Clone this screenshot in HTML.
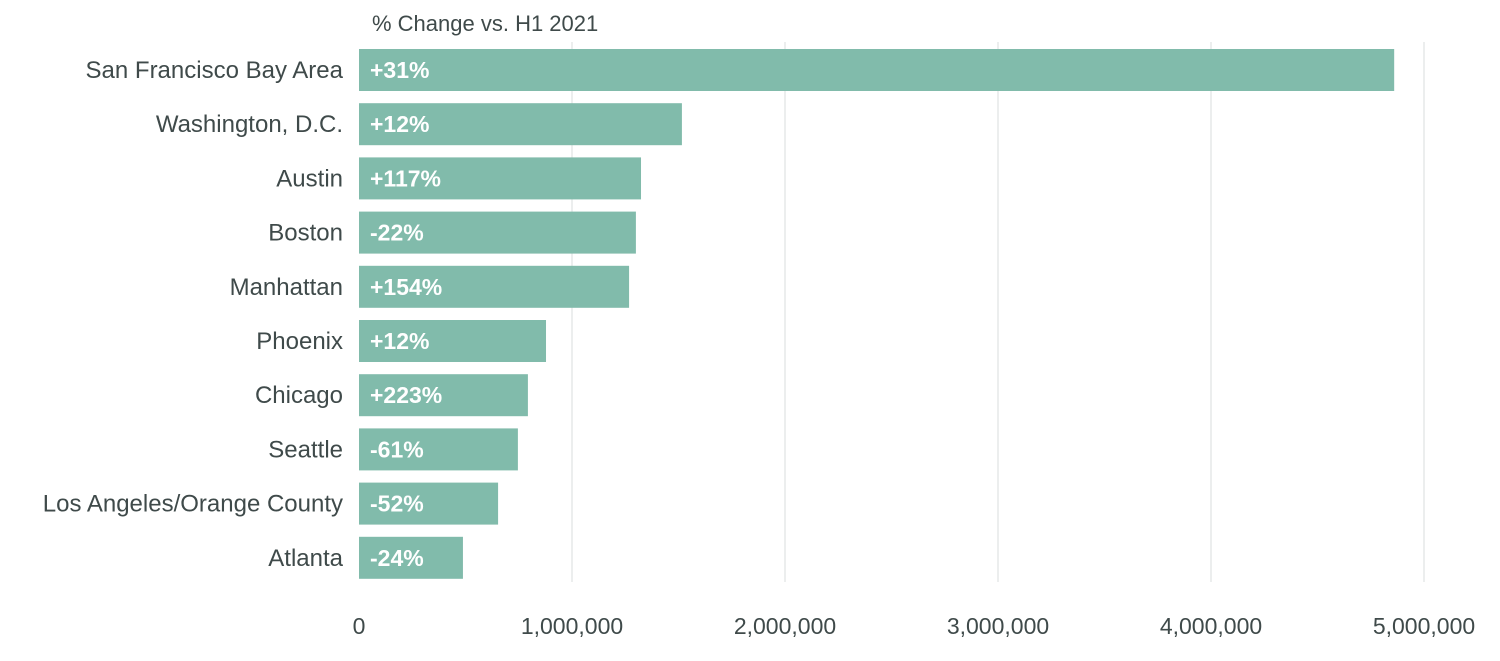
<!DOCTYPE html>
<html><head><meta charset="utf-8"><style>
body{margin:0;background:#fff;font-family:"Liberation Sans",sans-serif;}
svg text{font-family:"Liberation Sans",sans-serif;}
</style></head><body>
<svg id="chart" width="1500" height="656" xmlns="http://www.w3.org/2000/svg">
<text x="372" y="31" font-size="22" fill="#3f4a4a">% Change vs. H1 2021</text>
<g id="grid"></g><g id="bars"></g><g id="labels"></g><g id="ticks"></g>
</svg>
<script>
const categories=["San Francisco Bay Area","Washington, D.C.","Austin","Boston","Manhattan","Phoenix","Chicago","Seattle","Los Angeles/Orange County","Atlanta"];
const values=[4860000,1516000,1324000,1300000,1268000,878000,793000,746000,653000,488000];
const changes=["+31%","+12%","+117%","-22%","+154%","+12%","+223%","-61%","-52%","-24%"];
const tickValues=[0,1000000,2000000,3000000,4000000,5000000];
const tickLabels=["0","1,000,000","2,000,000","3,000,000","4,000,000","5,000,000"];
const NS="http://www.w3.org/2000/svg";
const x=v=>359+v*(1424-359)/5000000;
const y=i=>49+i*54.2;
const bh=42;
function mk(t,a,p){const e=document.createElementNS(NS,t);for(const k in a)e.setAttribute(k,a[k]);p.appendChild(e);return e;}
const G=document.getElementById('grid'),B=document.getElementById('bars'),L=document.getElementById('labels'),T=document.getElementById('ticks');
tickValues.forEach((v,i)=>{
 if(i>0){const l=mk('line',{x1:x(v),x2:x(v),y1:42,y2:582,stroke:'#e6e8e8','stroke-width':1.5},G);
 
 }
 const t=mk('text',{x:x(v),y:634,'font-size':23,fill:'#3f4a4a','text-anchor':'middle'},T);
 t.textContent=tickLabels[i];
 
 
});
categories.forEach((c,i)=>{
 const r=mk('rect',{x:x(0),y:y(i),width:x(values[i])-x(0),height:bh,fill:'#81bbab'},B);
 
 
 const t=mk('text',{x:370,y:y(i)+bh/2+8,'font-size':23,'font-weight':'bold',fill:'#fff'},B);
 t.textContent=changes[i];
 
 
 const c2=mk('text',{x:343,y:y(i)+bh/2+8,'font-size':24,fill:'#3f4a4a','text-anchor':'end'},L);
 c2.textContent=c;
 
 
});
</script>
</body></html>
